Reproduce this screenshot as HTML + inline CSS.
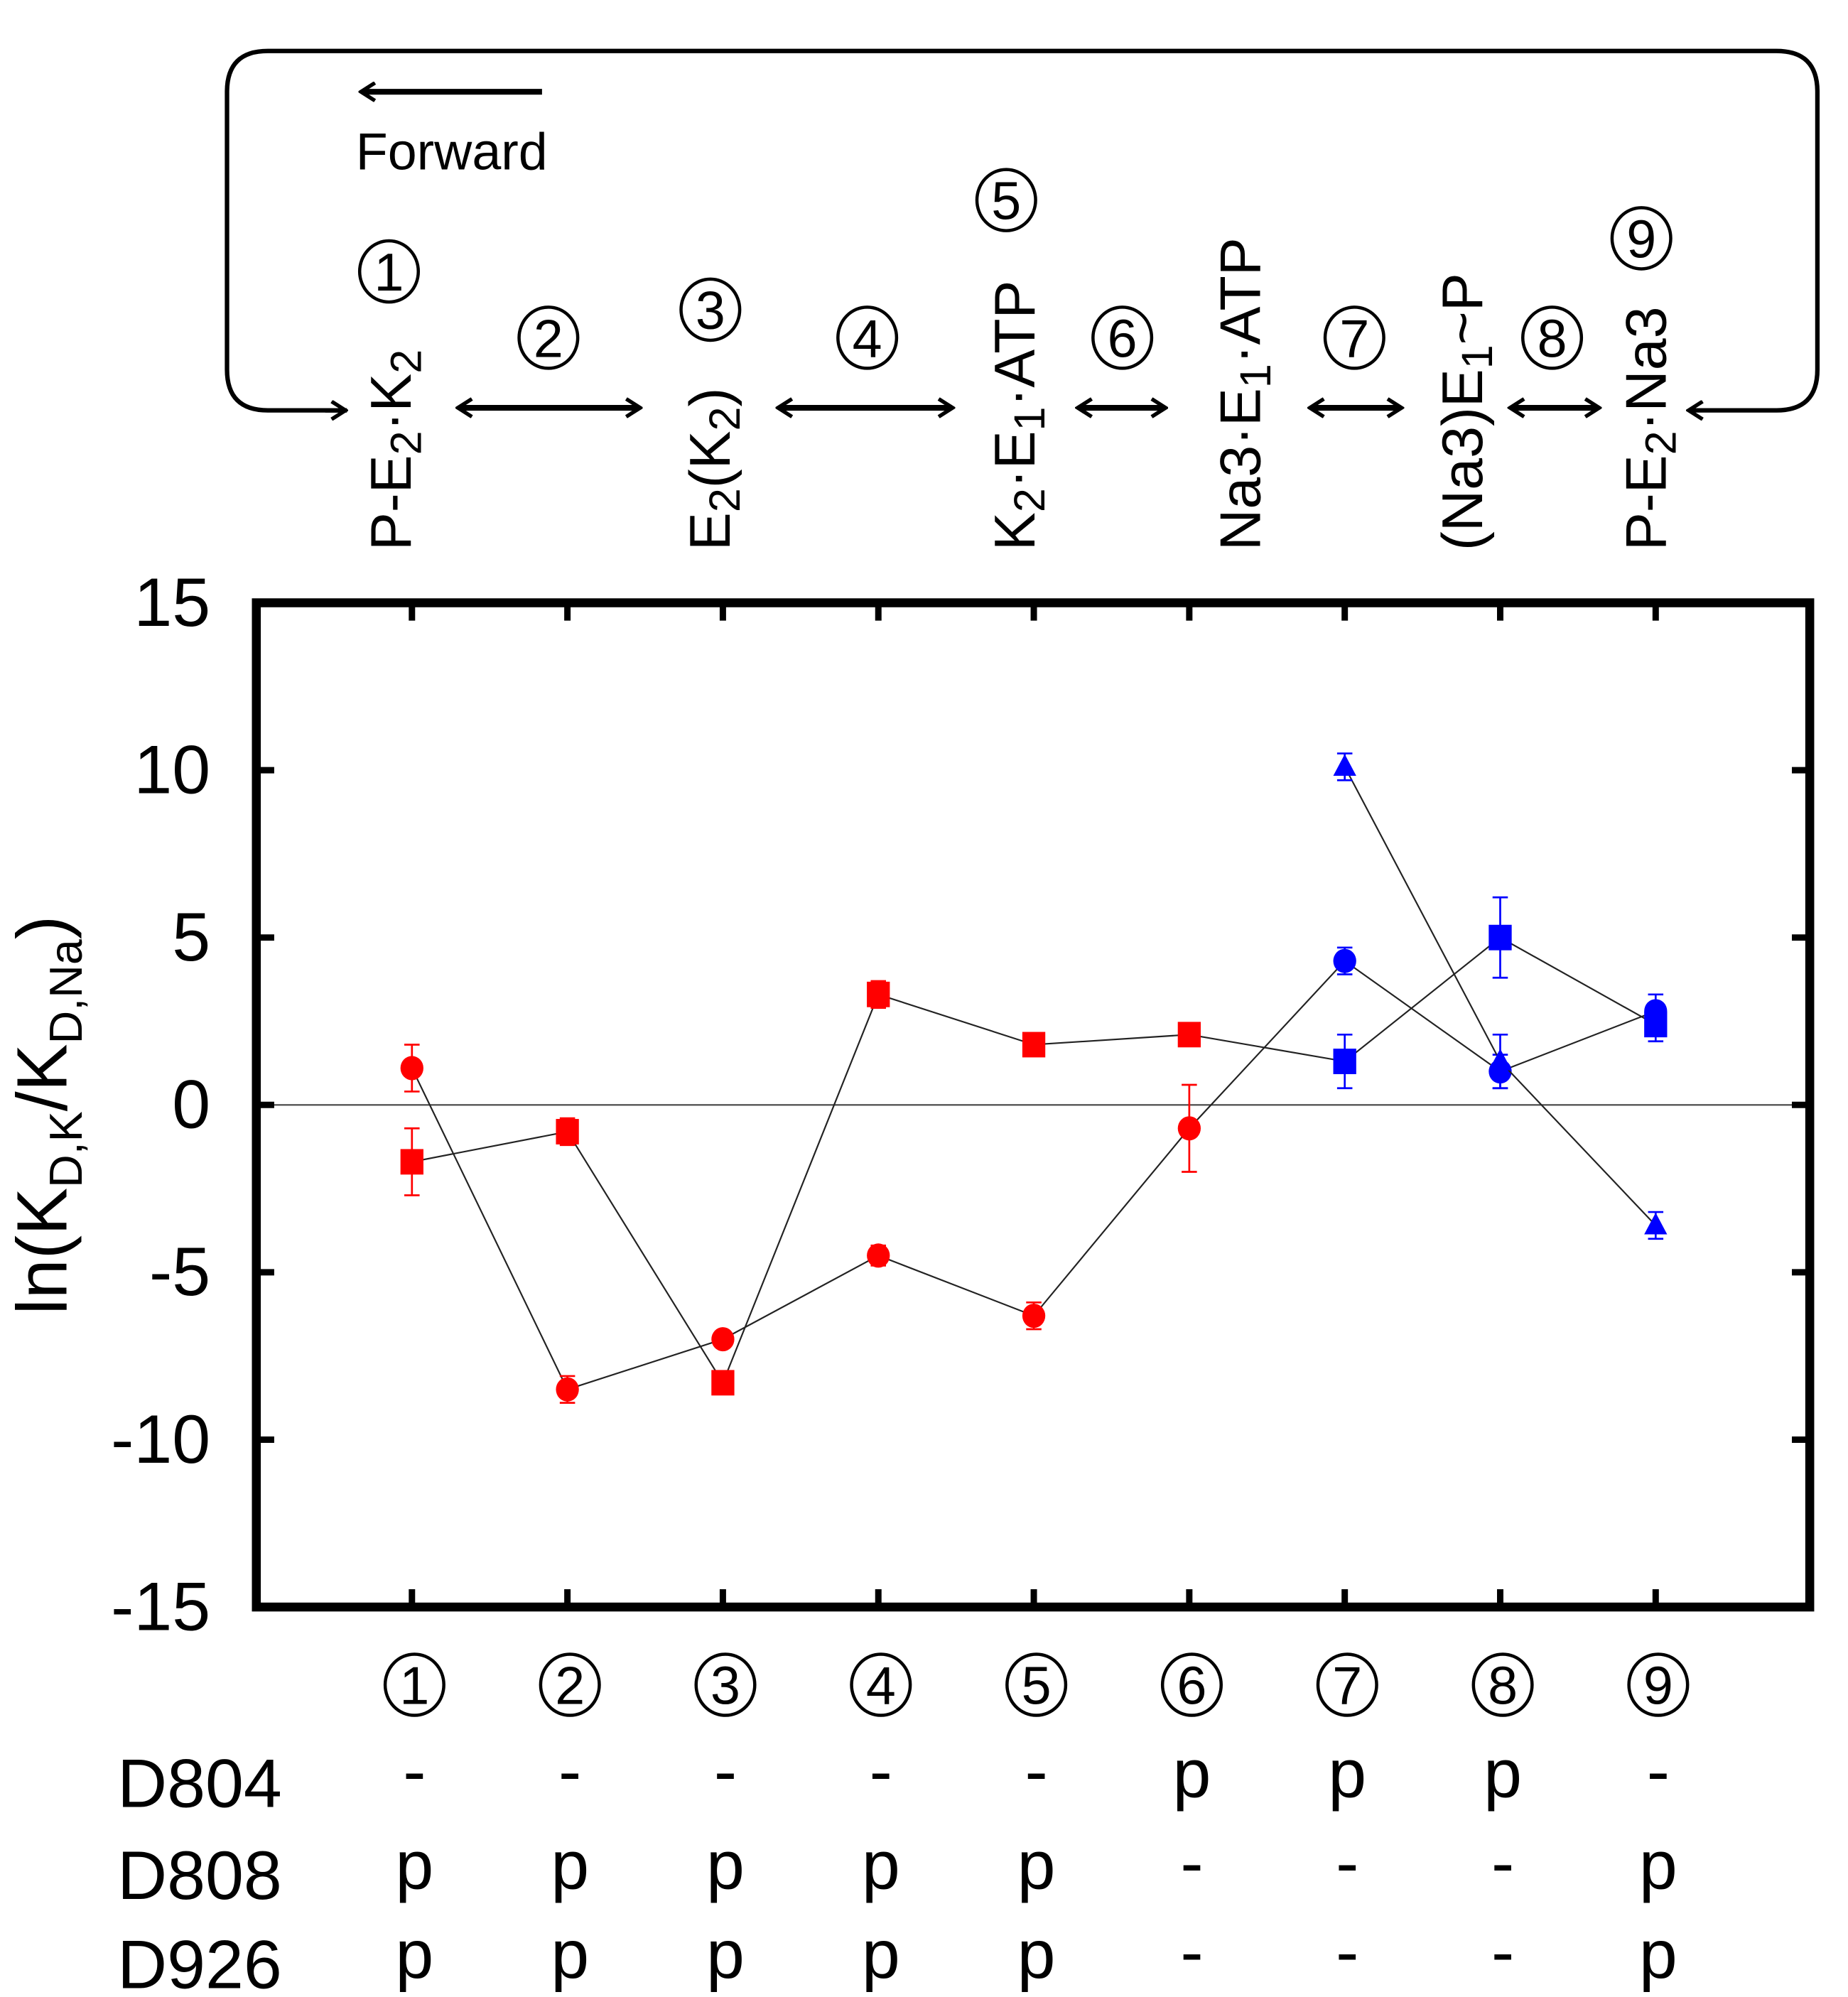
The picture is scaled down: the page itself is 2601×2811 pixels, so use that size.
<!DOCTYPE html>
<html><head><meta charset="utf-8"><style>
html,body{margin:0;padding:0;background:#fff;}
svg{display:block;font-family:"Liberation Sans",Arial,sans-serif;}
</style></head><body>
<svg id="fig" width="2601" height="2811" viewBox="0 0 1449 1567" preserveAspectRatio="none" xmlns="http://www.w3.org/2000/svg">
<defs>
<marker id="ah" markerWidth="14" markerHeight="16" refX="11" refY="8" orient="auto-start-reverse" markerUnits="userSpaceOnUse"><path d="M1,1 L12,8 L1,15" fill="none" stroke="#000" stroke-width="3"/></marker>
</defs>
<g id="scheme">
<path d="M272,322 L210,322 Q178,322 178,290 L178,72 Q178,40 210,40 L1393,40 Q1425,40 1425,72 L1425,290 Q1425,322 1393,322 L1325,322" fill="none" stroke="#000" stroke-width="3.5" marker-end="url(#ah)"/>
<line x1="255" y1="322" x2="270" y2="322" stroke="#000" stroke-width="3.5" marker-end="url(#ah)"/>
<line x1="425" y1="72" x2="284" y2="72" stroke="#000" stroke-width="4.5" marker-end="url(#ah)"/>
<text x="279" y="133" font-size="41">Forward</text>
<line x1="360" y1="320" x2="501" y2="320" stroke="#000" stroke-width="4.5" marker-start="url(#ah)" marker-end="url(#ah)"/>
<line x1="611" y1="320" x2="746" y2="320" stroke="#000" stroke-width="4.5" marker-start="url(#ah)" marker-end="url(#ah)"/>
<line x1="846" y1="320" x2="913" y2="320" stroke="#000" stroke-width="4.5" marker-start="url(#ah)" marker-end="url(#ah)"/>
<line x1="1028" y1="320" x2="1098" y2="320" stroke="#000" stroke-width="4.5" marker-start="url(#ah)" marker-end="url(#ah)"/>
<line x1="1185" y1="320" x2="1253" y2="320" stroke="#000" stroke-width="4.5" marker-start="url(#ah)" marker-end="url(#ah)"/>
<g font-size="45">
<text transform="translate(322,432) rotate(-90)">P-E<tspan font-size="34" dy="8">2</tspan><tspan dy="-8">·K</tspan><tspan font-size="34" dy="8">2</tspan></text>
<text transform="translate(572,432) rotate(-90)">E<tspan font-size="34" dy="8">2</tspan><tspan dy="-8">(K</tspan><tspan font-size="34" dy="8">2</tspan><tspan dy="-8">)</tspan></text>
<text transform="translate(811,432) rotate(-90)">K<tspan font-size="34" dy="8">2</tspan><tspan dy="-8">·E</tspan><tspan font-size="34" dy="8">1</tspan><tspan dy="-8">·ATP</tspan></text>
<text transform="translate(988,432) rotate(-90)">Na3·E<tspan font-size="34" dy="8">1</tspan><tspan dy="-8">·ATP</tspan></text>
<text transform="translate(1162,432) rotate(-90)">(Na3)E<tspan font-size="34" dy="8">1</tspan><tspan dy="-8">~P</tspan></text>
<text transform="translate(1306,432) rotate(-90)">P-E<tspan font-size="34" dy="8">2</tspan><tspan dy="-8">·Na3</tspan></text>
</g>
<g id="topnums"></g>
</g>
<g id="plot"></g>
<g id="table"></g>
</svg>
<script>
const categories=[1,2,3,4,5,6,7,8,9];
const circleVals=[1.1,-8.5,-7.0,-4.5,-6.3,-0.7,4.3,1.0,2.8];
const circleErr=[0.7,0.4,0.2,0.3,0.4,1.3,0.4,0.5,0.5];
const squareVals=[-1.7,-0.8,-8.3,3.3,1.8,2.1,1.3,5.0,2.4];
const squareErr=[1.0,0.4,0.2,0.4,0.2,0.2,0.8,1.2,0.5];
const triCats=[7,8,9];
const triVals=[10.1,1.3,-3.6];
const triErr=[0.4,0.8,0.4];
const yTicks=[15,10,5,0,-5,-10,-15];
const D804=['-','-','-','-','-','p','p','p','-'];
const D808=['p','p','p','p','p','-','-','-','p'];
const D926=['p','p','p','p','p','-','-','-','p'];
const NS='http://www.w3.org/2000/svg';
const L=201,R=1419,T=473,B=1261,ymin=-15,ymax=15;
const xs=c=>323+121.9*(c-1);
const ys=v=>B-(v-ymin)/(ymax-ymin)*(B-T);
function mk(tag,attrs,parent){const e=document.createElementNS(NS,tag);for(const k in attrs)e.setAttribute(k,attrs[k]);parent.appendChild(e);return e;}
const plot=document.getElementById('plot');
const colorOf=c=>c<=6?'#f00':'#00f';
let z=mk('line',{x1:L,x2:R,y1:ys(0),y2:ys(0),stroke:'#444','stroke-width':1.2},plot);


yTicks.forEach(v=>{
 const y=ys(v);
 let t=mk('line',{x1:L,x2:L+14,y1:y,y2:y,stroke:'#000','stroke-width':5},plot);
 
 
 let t2=mk('line',{x1:R-14,x2:R,y1:y,y2:y,stroke:'#000','stroke-width':5},plot);
 
 
 let lb=mk('text',{x:165,y:y+18,'font-size':54,'text-anchor':'end'},plot);
 lb.textContent=String(v);
 
 
});
categories.forEach(c=>{
 const x=xs(c);
 let t=mk('line',{x1:x,x2:x,y1:T,y2:T+14,stroke:'#000','stroke-width':5},plot);
 
 
 let t2=mk('line',{x1:x,x2:x,y1:B-14,y2:B,stroke:'#000','stroke-width':5},plot);
 
 
});
let box=mk('rect',{x:L,y:T,width:R-L,height:B-T,fill:'none',stroke:'#000','stroke-width':7},plot);


let yt=mk('text',{transform:'translate(52,875) rotate(-90)','font-size':56,'text-anchor':'middle'},plot);
yt.innerHTML='ln(K<tspan font-size="36" dy="12">D,K</tspan><tspan dy="-12">/K</tspan><tspan font-size="36" dy="12">D,Na</tspan><tspan dy="-12">)</tspan>';


function series(cats,vals,errs,shape,name){
 let pts=cats.map((c,i)=>xs(c)+','+ys(vals[i])).join(' ');
 let pl=mk('polyline',{points:pts,fill:'none',stroke:'#222','stroke-width':1.2},plot);
 
 
 cats.forEach((c,i)=>{
  const x=xs(c),y=ys(vals[i]),col=colorOf(c),e=errs[i];
  let g=mk('g',{stroke:col,'stroke-width':1.5},plot);
  
  
  mk('line',{x1:x,x2:x,y1:ys(vals[i]+e),y2:ys(vals[i]-e)},g);
  mk('line',{x1:x-6,x2:x+6,y1:ys(vals[i]+e),y2:ys(vals[i]+e)},g);
  mk('line',{x1:x-6,x2:x+6,y1:ys(vals[i]-e),y2:ys(vals[i]-e)},g);
  let m;
  if(shape==='circle') m=mk('ellipse',{cx:x,cy:y,rx:9,ry:9.5,fill:col},plot);
  else if(shape==='square') m=mk('rect',{x:x-9,y:y-10,width:18,height:20,fill:col},plot);
  else m=mk('path',{d:`M${x},${y-10} L${x+9},${y+7} L${x-9},${y+7} Z`,fill:col},plot);
  
  
 });
}
series(categories,circleVals,circleErr,'circle','circle-series');
series(categories,squareVals,squareErr,'square','square-series');
series(triCats,triVals,triErr,'triangle','triangle-series');
function circ(parent,x,y,n,name){
 let g=mk('g',{},parent);
 
 
 mk('ellipse',{cx:x,cy:y,rx:23,ry:24,fill:'none',stroke:'#000','stroke-width':2.5},g);
 let t=mk('text',{x:x,y:y+15,'font-size':42,'text-anchor':'middle'},g);
 t.textContent=String(n);
}
const topNumX=[305,430,557,680,789,880,1062,1217,1287];
const topNumY=[213,265,243,265,157,265,265,265,187];
const tn=document.getElementById('topnums');
categories.forEach((c,i)=>circ(tn,topNumX[i],topNumY[i],c,'step-number-'+c));
const tb=document.getElementById('table');
categories.forEach(c=>circ(tb,xs(c)+2,1322,c,'x-category-'+c));
const rows=[['D804',D804,1418],['D808',D808,1490],['D926',D926,1560]];
rows.forEach(r=>{
 let lb=mk('text',{x:92,y:r[2],'font-size':54},tb);
 lb.textContent=r[0];
 
 
 r[1].forEach((s,i)=>{
  let t=mk('text',{x:xs(categories[i])+2,y:r[2]-(s==='p'?8:10),'font-size':54,'text-anchor':'middle'},tb);
  t.textContent=s;
  
  
 });
});
</script>
</body></html>
